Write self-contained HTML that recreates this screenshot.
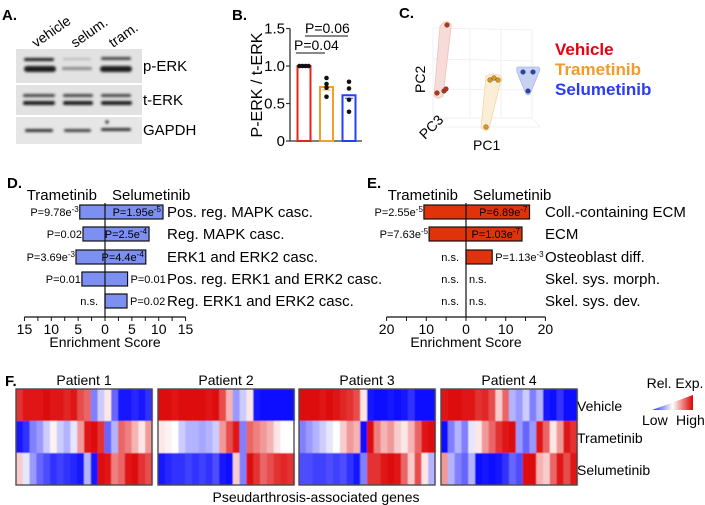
<!DOCTYPE html>
<html><head><meta charset="utf-8"><style>
body{margin:0;background:#fff}
svg{display:block;font-family:"Liberation Sans",Arial,sans-serif}
</style></head><body>
<svg id="fig" width="705" height="505" viewBox="0 0 705 505" xmlns="http://www.w3.org/2000/svg">
<defs>
<filter id="blur" x="-20%" y="-50%" width="140%" height="200%"><feGaussianBlur stdDeviation="1.3"/></filter>
<filter id="blur2"><feGaussianBlur stdDeviation="0.6"/></filter>
<linearGradient id="legGrad" x1="0" x2="1" y1="0" y2="0"><stop offset="0" stop-color="#1a2cff"/><stop offset="0.5" stop-color="#ffffff"/><stop offset="1" stop-color="#dd0000"/></linearGradient>
</defs>
<!-- Panel A -->
<g>
<text x="2" y="20" font-size="15" font-weight="bold">A.</text>
<text transform="translate(36,48) rotate(-35)" font-size="14">vehicle</text>
<text transform="translate(75,48) rotate(-35)" font-size="14">selum.</text>
<text transform="translate(113,48) rotate(-35)" font-size="14">tram.</text>
<rect x="16" y="49" width="126" height="34" fill="#e2e2e2"/>
<rect x="16" y="85" width="126" height="30" fill="#e2e2e2"/>
<rect x="16" y="117" width="126" height="27" fill="#e6e6e6"/>
<g filter="url(#blur)" fill="#1a1a1a">
<rect x="24" y="58" width="30" height="3" rx="1.5"/><rect x="24" y="66" width="32" height="6" rx="3"/>
<rect x="63" y="58" width="28" height="2" rx="1" fill="#b8b8b8"/><rect x="62" y="67" width="30" height="3" rx="1.5" fill="#8a8a8a"/>
<rect x="101" y="57" width="30" height="3" rx="1.5" fill="#444"/><rect x="100" y="66" width="32" height="6" rx="3"/>
<rect x="23" y="94" width="32" height="3" rx="1.5" fill="#444"/><rect x="23" y="101" width="32" height="4" rx="2"/>
<rect x="63" y="94" width="30" height="3" rx="1.5" fill="#444"/><rect x="63" y="101" width="30" height="4" rx="2"/>
<rect x="101" y="94" width="30" height="3" rx="1.5" fill="#444"/><rect x="101" y="101" width="31" height="4" rx="2"/>
<rect x="25" y="129" width="28" height="3" rx="1.5" fill="#333"/>
<rect x="64" y="129" width="27" height="3" rx="1.5" fill="#444"/>
<rect x="101" y="128" width="30" height="3" rx="1.5" fill="#333"/>
<circle cx="107" cy="122" r="1.6"/>
</g>
<text x="143" y="71" font-size="15">p-ERK</text>
<text x="143" y="105" font-size="15">t-ERK</text>
<text x="143" y="135" font-size="15">GAPDH</text>
</g>
<!-- Panel B -->
<g id="panelB">
<text x="232" y="20" font-size="15" font-weight="bold">B.</text>
<text transform="translate(262,85) rotate(-90)" font-size="16" text-anchor="middle">P-ERK / t-ERK</text>
</g>
<!-- Panel C -->
<g>
<text x="399" y="18" font-size="15" font-weight="bold">C.</text>
<g stroke="#eeeeee" stroke-width="0.8" fill="none">
<path d="M433,28 L532,30 L532,118 M433,28 L433,127 L540,127 L532,118 M433,59 L532,61 M433,89 L532,90 M470,29 L470,118 M501,30 L501,118 M433,118 L532,118 M433,127 L448,118"/>
</g>
<g><path d="M444,22 Q452,20 451,28 L443,96 Q438,100 434,96 L440,26 Z" fill="#f6d8d4" stroke="#f0b8b0" stroke-width="0.8" opacity="0.9"/></g>
<g><path d="M486,76 Q494,72 501,76 Q503,80 500,84 L489,129 Q485,132 481,128 Z" fill="#fbeed6" stroke="#f3d6a6" stroke-width="0.8"/></g>
<g><path d="M518,67 L538,67 Q541,68 539,72 L530,94 Q528,96 526,94 L517,72 Q516,68 518,67 Z" fill="#c8d2f2" stroke="#a8b8ea" stroke-width="0.8"/></g>
<g id="pcaPts"></g>
<text x="555" y="55" font-size="17" font-weight="bold" fill="#e8000f">Vehicle</text>
<text x="555" y="75" font-size="17" font-weight="bold" fill="#f39a2b">Trametinib</text>
<text x="555" y="95" font-size="17" font-weight="bold" fill="#2a3cf5">Selumetinib</text>
<text transform="translate(425,93) rotate(-90)" font-size="14">PC2</text>
<text transform="translate(425,140) rotate(-45)" font-size="14">PC3</text>
<text x="473" y="150" font-size="14">PC1</text>
</g>
<!-- Panel D/E -->
<g id="panelD">
<text x="7" y="188" font-size="15" font-weight="bold">D.</text>
</g>
<g id="panelE">
<text x="367" y="188" font-size="15" font-weight="bold">E.</text>
</g>
<!-- Panel F -->
<g id="panelF">
<text x="5" y="386" font-size="15" font-weight="bold">F.</text>
<text x="577" y="411" font-size="14">Vehicle</text>
<text x="577" y="443" font-size="14">Trametinib</text>
<text x="577" y="475" font-size="14">Selumetinib</text>
<text x="316" y="502" font-size="14" text-anchor="middle">Pseudarthrosis-associated genes</text>
<text x="675" y="388" font-size="14" text-anchor="middle">Rel. Exp.</text>
<path d="M652,410 L693,410 L693,395 Z" fill="url(#legGrad)"/>
<text x="642" y="425" font-size="14">Low</text>
<text x="676" y="425" font-size="14">High</text>
</g>
</svg>
<script>
const NS="http://www.w3.org/2000/svg";
function mk(parent,tag,attrs){const e=document.createElementNS(NS,tag);for(const k in attrs)e.setAttribute(k,attrs[k]);parent.appendChild(e);return e;}

// ---- Panel B data ----
const bGroups=["vehicle","trametinib","selumetinib"];
const bMeans=[1.0,0.72,0.61];
const bPoints=[[1,1,1,1],[0.84,0.76,0.71,0.59],[0.79,0.70,0.55,0.39]];
const bTicks=[0,0.5,1.0,1.5];
const bTickLabels=["0","0.5","1.0","1.5"];
const bColors=["#e8231c","#f0a030","#2440f5"];
(function(){
 const g=document.getElementById('panelB');
 const y=v=>141-v*75; const x0=290;
 const ax=mk(g,'path',{d:`M${x0},${y(1.5)} L${x0},141 L362,141`,stroke:'#333','stroke-width':1.3,fill:'none'});
 
 
 bTicks.forEach((t,i)=>{
  mk(g,'line',{x1:x0-4,x2:x0,y1:y(t),y2:y(t),stroke:'#333','stroke-width':1.2});
  const tx=mk(g,'text',{x:x0-5,y:y(t)+5,'font-size':15,'text-anchor':'end'});tx.textContent=bTickLabels[i];
  
  
 });
 bGroups.forEach((grp,i)=>{
  const cx=304+i*22.5;
  const r=mk(g,'rect',{x:cx-6.5,y:y(bMeans[i]),width:13,height:141-y(bMeans[i]),fill:'#fff',stroke:bColors[i],'stroke-width':2});
  
  
  if(i>0){mk(g,'line',{x1:cx-4,x2:cx+4,y1:y(bMeans[i]-0.04),y2:y(bMeans[i]-0.04),stroke:bColors[i],'stroke-width':1});}
  bPoints[i].forEach((p,j)=>{
   const px=i===0?cx-4.5+j*3:cx; 
   const c=mk(g,'circle',{cx:px,cy:y(p),r:2.3,fill:'#111'});
   
   
  });
 });
 mk(g,'line',{x1:296,x2:325,y1:53,y2:53,stroke:'#111','stroke-width':1});
 let t=mk(g,'text',{x:294,y:50,'font-size':14});t.textContent='P=0.04';
 
 
 mk(g,'line',{x1:305,x2:348,y1:36,y2:36,stroke:'#111','stroke-width':1});
 t=mk(g,'text',{x:305,y:33,'font-size':14});t.textContent='P=0.06';
 
 
})();

// ---- Panel C points ----
const pcaVehicle=[[447,25],[437,93],[444,91],[446,89]];
const pcaTram=[[490,80],[494,78],[498,80],[486,127]];
const pcaSelu=[[523,72],[533,72],[528,91]];
(function(){
 const g=document.getElementById('pcaPts');
 [[pcaVehicle,'#b0351a','vehicle'],[pcaTram,'#d9961a','trametinib'],[pcaSelu,'#2a45b0','selumetinib']].forEach(([pts,col,n])=>{
  pts.forEach(p=>{const c=mk(g,'circle',{cx:p[0],cy:p[1],r:2.4,fill:col,stroke:'#333','stroke-width':0.3});
   
   });
 });
})();

// ---- Panel D data ----
const dTerms=["Pos. reg. MAPK casc.","Reg. MAPK casc.","ERK1 and ERK2 casc.","Pos. reg. ERK1 and ERK2 casc.","Reg. ERK1 and ERK2 casc."];
const dTram=[4.7,4.1,5.4,4.3,0];
const dSelu=[10.8,8.2,7.6,4.2,4.1];
const dTramP=[["P=9.78e","-3"],["P=0.02",""],["P=3.69e","-3"],["P=0.01",""],["n.s.",""]];
const dSeluP=[["P=1.95e","-5"],["P=2.5e","-4"],["P=4.4e","-4"],["P=0.01",""],["P=0.02",""]];
const dTicks=[-15,-10,-5,0,5,10,15];
// ---- Panel E data ----
const eTerms=["Coll.-containing ECM","ECM","Osteoblast diff.","Skel. sys. morph.","Skel. sys. dev."];
const eTram=[10.6,9.3,0,0,0];
const eSelu=[16,14.1,6.6,0,0];
const eTramP=[["P=2.55e","-5"],["P=7.63e","-5"],["n.s.",""],["n.s.",""],["n.s.",""]];
const eSeluP=[["P=6.89e","-7"],["P=1.03e","-7"],["P=1.13e","-3"],["n.s.",""],["n.s.",""]];
const eTicks=[-20,-10,0,10,20];

function pText(g,x,y,anchor,pt,name){
 const t=mk(g,'text',{x:x,y:y,'font-size':11,'text-anchor':anchor});
 
 
 const a=mk(t,'tspan',{});a.textContent=pt[0];
 if(pt[1]){const s=mk(t,'tspan',{dy:-4,'font-size':8});s.textContent=pt[1];}
}
function enrich(gid,x0,ppu,terms,tram,selu,tP,sP,ticks,tickMax,col,labX,pfx){
 const g=document.getElementById(gid);
 const x=v=>x0+v*ppu; const rowY=[212,234,257,279,301];
 let t=mk(g,'text',{x:x0-8,y:200,'font-size':15,'text-anchor':'end'});t.textContent='Trametinib';
 
 
 t=mk(g,'text',{x:x0+7,y:200,'font-size':15});t.textContent='Selumetinib';
 
 
 terms.forEach((term,i)=>{
  const cy=rowY[i];
  if(tram[i]+selu[i]>0){
   const r=mk(g,'rect',{x:x(-tram[i]),y:cy-7,width:(tram[i]+selu[i])*ppu,height:14,fill:col,stroke:'#111','stroke-width':1.2});
   
   
  }
  const lx=tram[i]>0?x(-tram[i])-1:x0-7;
  pText(g,lx,cy+4,'end',tP[i],pfx+'-tram-p-'+(i+1));
  const sx=selu[i];
  if(sx*ppu>40) pText(g,x(sx)-2,cy+4,'end',sP[i],pfx+'-selu-p-'+(i+1));
  else pText(g,(sx>0?x(sx):x0)+3,cy+4,'start',sP[i],pfx+'-selu-p-'+(i+1));
  const tl=mk(g,'text',{x:labX,y:cy+5,'font-size':15});tl.textContent=term;
  
  
 });
 mk(g,'line',{x1:x0,x2:x0,y1:203,y2:317,stroke:'#111','stroke-width':1.2});
 const ax=mk(g,'line',{x1:x(-tickMax),x2:x(tickMax),y1:317,y2:317,stroke:'#111','stroke-width':1.2});
 
 
 const step=(ticks[1]-ticks[0])/2;
 for(let v=-tickMax;v<=tickMax+0.01;v+=step){mk(g,'line',{x1:x(v),x2:x(v),y1:317,y2:321,stroke:'#111','stroke-width':1});}
 ticks.forEach(v=>{const tt=mk(g,'text',{x:x(v),y:334,'font-size':14,'text-anchor':'middle'});tt.textContent=Math.abs(v);
  
  });
 const at=mk(g,'text',{x:x0,y:347,'font-size':14,'text-anchor':'middle'});at.textContent='Enrichment Score';
 
 
}
enrich('panelD',105,5.37,dTerms,dTram,dSelu,dTramP,dSeluP,dTicks,15,'#7d8ff0',167,'d');
enrich('panelE',466,3.97,eTerms,eTram,eSelu,eTramP,eSeluP,eTicks,20,'#e0330c',545,'e');

// ---- Panel F heatmap data ----
const patients=["Patient 1","Patient 2","Patient 3","Patient 4"];
const rowNames=["Vehicle","Trametinib","Selumetinib"];
const p1=[[0.8,0.9,0.9,0.9,0.95,0.9,0.9,0.85,0.9,0.7,0.6,-0.5,-0.2,0.1,-0.6,-0.9,-0.9,-0.85,-0.9,-0.8],
 [-0.9,-0.8,-0.5,-0.4,-0.2,0.05,-0.2,-0.3,-0.1,0.4,0.9,0.95,0.8,-0.6,-0.3,0.6,0.5,0.3,0.1,0.4],
 [0.2,-0.1,-0.4,-0.6,-0.7,-0.8,-0.75,-0.8,-0.85,-0.9,-0.3,-0.9,0.95,0.9,0.5,0.6,0.9,0.95,0.8,0.7]];
const p2=[[0.95,0.95,0.9,0.95,0.95,0.95,0.95,0.9,0.95,0.7,0.3,-0.4,-0.2,0.1,-0.9,-0.95,-0.95,-0.95,-0.95,-0.95],
 [0.1,0.05,0.0,-0.2,-0.3,-0.3,-0.35,-0.3,-0.2,0.4,0.7,0.9,-0.5,0.6,0.5,0.4,0.3,0.1,0.0,0.0],
 [-0.9,-0.85,-0.8,-0.8,-0.75,-0.8,-0.75,-0.8,-0.7,-0.9,-0.95,0.2,-0.5,0.95,0.8,0.6,0.7,0.8,0.85,0.8]];
const p3=[[0.95,0.95,0.95,0.9,0.95,0.9,0.85,0.8,0.7,0.1,-0.9,-0.95,-0.95,-0.9,-0.95,-0.9,-0.8,-0.95,-0.95,-0.95],
 [-0.5,-0.4,-0.3,-0.2,-0.1,0.0,0.2,0.4,0.3,-0.95,0.95,0.5,0.3,0.4,0.2,0.1,0.3,0.6,0.9,0.95],
 [-0.7,-0.7,-0.75,-0.75,-0.7,-0.75,-0.7,-0.8,-0.9,-0.5,0.8,0.8,0.9,0.95,0.9,0.6,0.2,0.7,0.1,-0.3]];
const p4=[[0.9,0.95,0.95,0.9,0.9,0.8,0.85,0.7,0.2,0.6,-0.3,-0.4,-0.2,-0.5,-0.3,-0.9,-0.95,-0.8,-0.95,-0.95],
 [-0.95,-0.5,-0.3,-0.5,-0.1,0.1,0.4,0.6,0.8,0.9,0.95,-0.4,-0.6,-0.4,0.9,0.6,0.1,0.4,0.9,0.8],
 [0.4,-0.3,-0.5,-0.6,-0.3,-0.95,-0.9,-0.95,-0.9,-0.8,-0.6,-0.7,0.95,0.95,0.3,0.2,0.6,0.9,0.7,0.9]];
const heatData=[p1,p2,p3,p4];
function colorOf(v){
 v=Math.max(-1,Math.min(1,v));
 if(v>=0){const r=Math.round(255-35*v),gb=Math.round(255*(1-v));return `rgb(${r},${gb},${gb})`;}
 const a=-v;const rg=Math.round(255*(1-a));return `rgb(${rg},${rg},255)`;
}
(function(){
 const g=document.getElementById('panelF');
 const panelX=[16,158,299,441], pw=136, top=389, rh=32;
 heatData.forEach((pd,pi)=>{
  const x0=panelX[pi];
  const lab=mk(g,'text',{x:x0+pw/2,y:385,'font-size':14,'text-anchor':'middle'});lab.textContent=patients[pi];
  
  
  const cg=mk(g,'g',{filter:'url(#blur2)'});
  pd.forEach((row,ri)=>{
   const cw=pw/row.length;
   row.forEach((v,ci)=>{
    const r=mk(cg,'rect',{x:x0+ci*cw,y:top+ri*rh,width:cw+0.6,height:rh,fill:colorOf(v)});
    
    
   });
  });
  const b=mk(g,'rect',{x:x0,y:top,width:pw,height:rh*3,fill:'none',stroke:'#444','stroke-width':1.3});
  
  
 });
})();
</script>
</body></html>
